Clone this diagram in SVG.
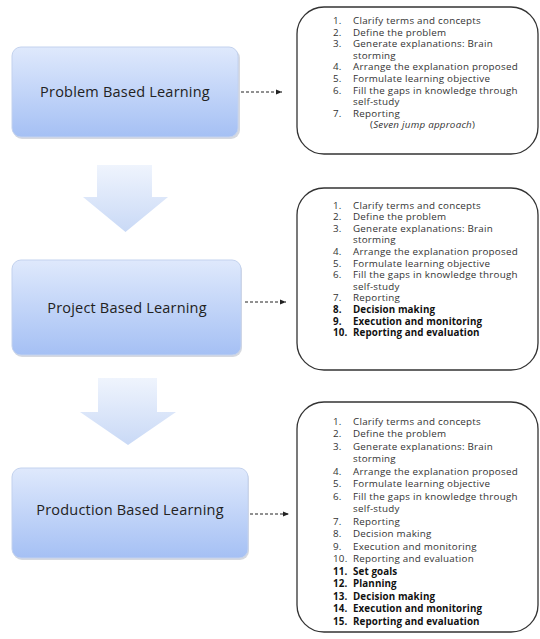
<svg xmlns="http://www.w3.org/2000/svg" width="540" height="639" viewBox="0 0 540 639">
<defs>
<linearGradient id="gBox" x1="0" y1="0" x2="0" y2="1">
<stop offset="0" stop-color="#dfe9fc"/>
<stop offset="1" stop-color="#a5c0f4"/>
</linearGradient>
<linearGradient id="gArrow" x1="0" y1="0" x2="0" y2="1">
<stop offset="0" stop-color="#eff4fd"/>
<stop offset="1" stop-color="#c9d9f6"/>
</linearGradient>
<marker id="ah" viewBox="0 0 6 6" refX="6" refY="3" markerWidth="6" markerHeight="6" markerUnits="userSpaceOnUse" orient="auto">
<path d="M0,0.5 L6,3 L0,5.5 Z" fill="#222"/>
</marker>
<style>
.lb{fill:url(#gBox);stroke:#c3d2ee;stroke-width:1}
.sh{fill:#d6d9e0}
.lt{font-family:"Open Sans","Liberation Sans",sans-serif;font-size:14.5px;letter-spacing:0.2px;fill:#222;text-anchor:middle}
.rb{fill:#fff;stroke:#333;stroke-width:1.3}
.li{font-family:"Open Sans","Liberation Sans",sans-serif;font-size:9.8px;letter-spacing:0.25px;fill:#333}
.b{font-weight:bold;fill:#111;letter-spacing:0.1px}
.it{font-style:italic}
.dash{stroke:#222;stroke-width:1;stroke-dasharray:3 2;fill:none;marker-end:url(#ah)}
.da{fill:url(#gArrow);stroke:none}
</style>
</defs>

<g id="node-problem">
<rect class="sh" x="13" y="49" width="227" height="90" rx="9"/>
<rect class="lb" x="12" y="47" width="226" height="90" rx="9"/>
<text class="lt" x="125" y="97">Problem Based Learning</text>
</g>

<g id="node-project">
<rect class="sh" x="13" y="262" width="229" height="95" rx="9"/>
<rect class="lb" x="12" y="260" width="229" height="95" rx="9"/>
<text class="lt" x="127" y="313">Project Based Learning</text>
</g>

<g id="node-production">
<rect class="sh" x="13" y="470" width="236" height="90" rx="9"/>
<rect class="lb" x="12" y="468" width="236" height="90" rx="9"/>
<text class="lt" x="130" y="515">Production Based Learning</text>
</g>

<g id="arrow-down-1">
<polygon class="da" points="97,165 152,165 152,197 168,197 125.5,232 83,197 97,197"/>
</g>
<g id="arrow-down-2">
<polygon class="da" points="98,378 157,378 157,412 176,412 128,445 80,412 98,412"/>
</g>

<g id="list-problem">
<rect class="rb" x="297" y="7" width="241" height="147" rx="27"/>
<g class="li">
<text x="333" y="24">1.</text><text x="353" y="24">Clarify terms and concepts</text>
<text x="333" y="35.6">2.</text><text x="353" y="35.6">Define the problem</text>
<text x="333" y="47.2">3.</text><text x="353" y="47.2">Generate explanations: Brain</text>
<text x="353" y="58.8">storming</text>
<text x="333" y="70.4">4.</text><text x="353" y="70.4">Arrange the explanation proposed</text>
<text x="333" y="82">5.</text><text x="353" y="82">Formulate learning objective</text>
<text x="333" y="93.6">6.</text><text x="353" y="93.6">Fill the gaps in knowledge through</text>
<text x="353" y="105.2">self-study</text>
<text x="333" y="116.8">7.</text><text x="353" y="116.8">Reporting</text>
<text x="370" y="128.4">(<tspan class="it">Seven jump approach</tspan>)</text>
</g>
</g>

<g id="list-project">
<rect class="rb" x="297" y="188" width="241" height="182" rx="27"/>
<g class="li">
<text x="333" y="208.5">1.</text><text x="353" y="208.5">Clarify terms and concepts</text>
<text x="333" y="220.1">2.</text><text x="353" y="220.1">Define the problem</text>
<text x="333" y="231.7">3.</text><text x="353" y="231.7">Generate explanations: Brain</text>
<text x="353" y="243.3">storming</text>
<text x="333" y="254.9">4.</text><text x="353" y="254.9">Arrange the explanation proposed</text>
<text x="333" y="266.5">5.</text><text x="353" y="266.5">Formulate learning objective</text>
<text x="333" y="278.1">6.</text><text x="353" y="278.1">Fill the gaps in knowledge through</text>
<text x="353" y="289.7">self-study</text>
<text x="333" y="301.3">7.</text><text x="353" y="301.3">Reporting</text>
<text class="b" x="333" y="312.9">8.</text><text class="b" x="353" y="312.9">Decision making</text>
<text class="b" x="333" y="324.5">9.</text><text class="b" x="353" y="324.5">Execution and monitoring</text>
<text class="b" x="333" y="336.1">10.</text><text class="b" x="353" y="336.1">Reporting and evaluation</text>
</g>
</g>

<g id="list-production">
<rect class="rb" x="297" y="402" width="241" height="230" rx="27"/>
<g class="li">
<text x="333" y="424.5">1.</text><text x="353" y="424.5">Clarify terms and concepts</text>
<text x="333" y="437">2.</text><text x="353" y="437">Define the problem</text>
<text x="333" y="449.5">3.</text><text x="353" y="449.5">Generate explanations: Brain</text>
<text x="353" y="462">storming</text>
<text x="333" y="474.5">4.</text><text x="353" y="474.5">Arrange the explanation proposed</text>
<text x="333" y="487">5.</text><text x="353" y="487">Formulate learning objective</text>
<text x="333" y="499.5">6.</text><text x="353" y="499.5">Fill the gaps in knowledge through</text>
<text x="353" y="512">self-study</text>
<text x="333" y="524.5">7.</text><text x="353" y="524.5">Reporting</text>
<text x="333" y="537">8.</text><text x="353" y="537">Decision making</text>
<text x="333" y="549.5">9.</text><text x="353" y="549.5">Execution and monitoring</text>
<text x="333" y="562">10.</text><text x="353" y="562">Reporting and evaluation</text>
<text class="b" x="333" y="574.5">11.</text><text class="b" x="353" y="574.5">Set goals</text>
<text class="b" x="333" y="587">12.</text><text class="b" x="353" y="587">Planning</text>
<text class="b" x="333" y="599.5">13.</text><text class="b" x="353" y="599.5">Decision making</text>
<text class="b" x="333" y="612">14.</text><text class="b" x="353" y="612">Execution and monitoring</text>
<text class="b" x="333" y="624.5">15.</text><text class="b" x="353" y="624.5">Reporting and evaluation</text>
</g>
</g>

<g id="connectors">
<line class="dash" x1="241" y1="92" x2="282" y2="92"/>
<line class="dash" x1="245" y1="302" x2="286" y2="302"/>
<line class="dash" x1="250" y1="514" x2="289" y2="514"/>
</g>
</svg>
